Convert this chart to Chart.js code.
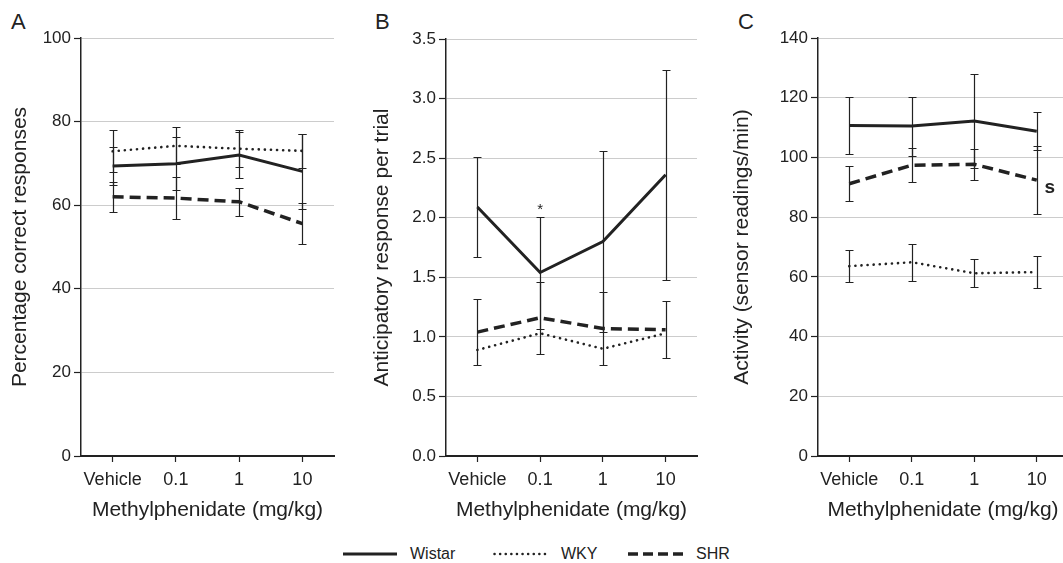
<!DOCTYPE html>
<html>
<head>
<meta charset="utf-8">
<script src="https://cdn.jsdelivr.net/npm/chart.js@4.4.0/dist/chart.umd.min.js"></script>
<style>
  html, body { margin: 0; padding: 0; overflow: hidden; background: #fff; width: 1063px; height: 563px; }
  body { position: relative; font-family: "Liberation Sans", Arial, sans-serif; color: #222; }
  canvas { position: absolute; top: 0; }
  .letter { position: absolute; top: 11px; font-size: 22px; line-height: 22px; }
  .key { position: absolute; top: 543px; height: 22px; display: flex; align-items: center; font-size: 16px; }
  .key svg { margin-right: 13px; }
</style>
</head>
<body>
<div class="letter" style="left:11px">A</div>
<div class="letter" style="left:375px">B</div>
<div class="letter" style="left:738px">C</div>

<canvas id="chartA" width="345" height="530" style="left:0"></canvas>
<canvas id="chartB" width="345" height="530" style="left:362px"></canvas>
<canvas id="chartC" width="356" height="530" style="left:722px"></canvas>

<div class="key" style="left:343px">
  <svg width="54" height="6"><line x1="0" y1="3" x2="54" y2="3" stroke="#222" stroke-width="3"/></svg>Wistar
</div>
<div class="key" style="left:493px">
  <svg width="55" height="6"><line x1="1.5" y1="3" x2="55" y2="3" stroke="#222" stroke-width="2.5" stroke-linecap="round" stroke-dasharray="0.1 5.5"/></svg>WKY
</div>
<div class="key" style="left:628px">
  <svg width="55" height="6"><line x1="0" y1="3" x2="55" y2="3" stroke="#222" stroke-width="3.5" stroke-dasharray="10 5"/></svg>SHR
</div>

<script>
const doses = ['Vehicle', '0.1', '1', '10'];

// A: percentage correct responses
const wistarA = [69.4, 69.9, 72.0, 68.1];
const wistarAErr = [4.5, 6.3, 5.5, 9.0];
const wkyA = [72.9, 74.2, 73.5, 73.0];
const wkyAErr = [5.0, 4.4, 4.4, 4.0];
const shrA = [62.0, 61.7, 60.8, 55.6];
const shrAErr = [3.6, 5.0, 3.4, 4.9];
const ticksA = [0, 20, 40, 60, 80, 100];

// B: anticipatory responses per trial
const wistarB = [2.09, 1.54, 1.80, 2.36];
const wistarBErr = [0.42, 0.47, 0.76, 0.88];
const wkyB = [0.89, 1.03, 0.90, 1.03];
const shrB = [1.04, 1.16, 1.07, 1.06];
const shrBErr = [0.28, 0.30, 0.31, 0.24];
const ticksB = [0, 0.5, 1.0, 1.5, 2.0, 2.5, 3.0, 3.5];

// C: activity
const wistarC = [110.7, 110.5, 112.2, 108.8];
const wistarCErr = [9.7, 9.9, 15.9, 6.4];
const wkyC = [63.6, 64.9, 61.2, 61.6];
const wkyCErr = [5.3, 6.2, 4.7, 5.4];
const shrC = [91.2, 97.4, 97.7, 92.4];
const shrCErr = [5.8, 5.7, 5.1, 11.5];
const ticksC = [0, 20, 40, 60, 80, 100, 120, 140];

const family = '"Liberation Sans", Arial, sans-serif';
const ink = '#222';

// vertical error bars with caps, from each dataset's "errors" list
const errorBars = {
    id: 'errorBars',
    afterDatasetsDraw(chart) {
        const {ctx, scales: {x, y}} = chart;
        ctx.save();
        ctx.strokeStyle = ink;
        ctx.lineWidth = 1.2;
        chart.data.datasets.forEach(ds => {
            if (!ds.errors) return;
            ds.data.forEach((v, i) => {
                const e = ds.errors[i];
                if (e == null) return;
                const px = Math.round(x.getPixelForValue(i)) + 0.5;
                const top = Math.round(y.getPixelForValue(v + e)) + 0.5;
                const bot = Math.round(y.getPixelForValue(v - e)) + 0.5;
                ctx.beginPath();
                ctx.moveTo(px, top); ctx.lineTo(px, bot);
                ctx.moveTo(px - 4, top); ctx.lineTo(px + 4, top);
                ctx.moveTo(px - 4, bot); ctx.lineTo(px + 4, bot);
                ctx.stroke();
            });
        });
        ctx.restore();
    }
};

// small significance marks
const marks = {
    id: 'marks',
    afterDatasetsDraw(chart, args, opts) {
        const {ctx, scales: {x, y}} = chart;
        (opts.items || []).forEach(m => {
            ctx.save();
            ctx.fillStyle = ink;
            ctx.font = m.font;
            ctx.textAlign = 'center';
            ctx.textBaseline = 'middle';
            ctx.fillText(m.text, x.getPixelForValue(m.index) + (m.dx || 0), y.getPixelForValue(m.value) + (m.dy || 0));
            ctx.restore();
        });
    }
};

const lineStyles = {
    Wistar: {borderWidth: 3, borderDash: []},
    WKY: {borderWidth: 2.6, borderDash: [0.1, 6], borderCapStyle: 'round'},
    SHR: {borderWidth: 3.5, borderDash: [11, 6]}
};

const series = (label, data, errors) => ({
    label, data, errors,
    borderColor: ink,
    backgroundColor: ink,
    pointRadius: 0,
    tension: 0,
    ...lineStyles[label]
});

const panelOptions = ({yTitle, ticks, yWidth, top, right, fmt, items}) => ({
    responsive: false,
    animation: false,
    devicePixelRatio: 1,
    layout: {padding: {top, right, left: 0, bottom: 0}},
    plugins: {
        legend: {display: false},
        tooltip: {enabled: false},
        marks: {items: items || []}
    },
    scales: {
        x: {
            offset: true,
            grid: {drawOnChartArea: false, tickLength: 6, tickColor: ink, tickWidth: 1.2},
            border: {color: ink, width: 2},
            ticks: {color: ink, font: {size: 18, family}, padding: 7, maxRotation: 0, autoSkip: false},
            title: {display: true, text: 'Methylphenidate (mg/kg)', color: ink,
                    font: {size: 21, family}, padding: {top: 0, bottom: 7}},
            afterFit: s => { s.height = 74; }
        },
        y: {
            min: ticks[0],
            max: ticks[ticks.length - 1],
            afterBuildTicks: s => { s.ticks = ticks.map(v => ({value: v})); },
            grid: {color: '#cccccc', lineWidth: 1, tickLength: 7, tickColor: ink, tickWidth: 1.2},
            border: {color: ink, width: 1.5},
            ticks: {color: ink, font: {size: 17, family}, padding: 3,
                    callback: fmt || (v => String(v))},
            title: {display: true, text: yTitle, color: ink,
                    font: {size: 21, family}, padding: {top: 8, bottom: 0}},
            afterFit: s => { s.width = yWidth; }
        }
    }
});

new Chart(document.getElementById('chartA'), {
    type: 'line',
    data: {
        labels: doses,
        datasets: [
            series('Wistar', wistarA, wistarAErr),
            series('WKY', wkyA, wkyAErr),
            series('SHR', shrA, shrAErr)
        ]
    },
    options: panelOptions({yTitle: 'Percentage correct responses', ticks: ticksA, yWidth: 81, top: 38, right: 11}),
    plugins: [errorBars, marks]
});

new Chart(document.getElementById('chartB'), {
    type: 'line',
    data: {
        labels: doses,
        datasets: [
            series('Wistar', wistarB, wistarBErr),
            series('WKY', wkyB, null),
            series('SHR', shrB, shrBErr)
        ]
    },
    options: panelOptions({
        yTitle: 'Anticipatory response per trial', ticks: ticksB, yWidth: 84, top: 39, right: 10,
        fmt: v => v.toFixed(1),
        items: [{text: '*', index: 1, value: wistarB[1] + wistarBErr[1], dy: -7, font: '15px ' + family}]
    }),
    plugins: [errorBars, marks]
});

new Chart(document.getElementById('chartC'), {
    type: 'line',
    data: {
        labels: doses,
        datasets: [
            series('Wistar', wistarC, wistarCErr),
            series('WKY', wkyC, wkyCErr),
            series('SHR', shrC, shrCErr)
        ]
    },
    options: panelOptions({
        yTitle: 'Activity (sensor readings/min)', ticks: ticksC, yWidth: 96, top: 38, right: 10,
        items: [{text: 's', index: 3, value: 89.7, dx: 13, font: 'bold 19px ' + family}]
    }),
    plugins: [errorBars, marks]
});
</script>
</body>
</html>
